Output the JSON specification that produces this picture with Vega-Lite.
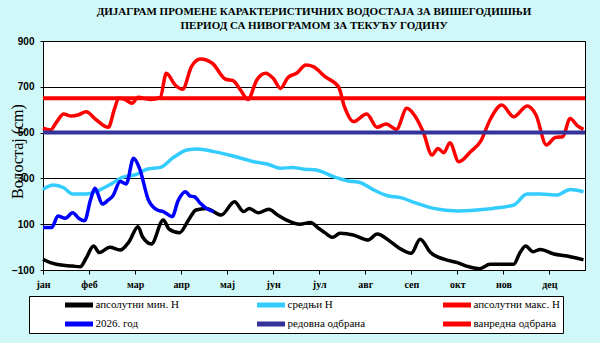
{
  "$schema": "https://vega.github.io/schema/vega-lite/v6.json",
  "width": 542,
  "height": 229,
  "autosize": {"type": "none"},
  "padding": {"left": 43, "top": 41, "right": 15, "bottom": 73},
  "background": "#d0f8f8",
  "title": {
    "text": ["ДИЈАГРАМ ПРОМЕНЕ КАРАКТЕРИСТИЧНИХ ВОДОСТАЈА ЗА ВИШЕГОДИШЊИ", "ПЕРИОД СА НИВОГРАМОМ ЗА ТЕКУЋУ ГОДИНУ"],
    "font": "Liberation Serif",
    "fontSize": 11,
    "fontWeight": "bold",
    "color": "black",
    "anchor": "middle",
    "frame": "group",
    "lineHeight": 14,
    "offset": 5
  },
  "datasets": {
    "lines": [
      {"s": "апсолутни мин. H", "d": 0, "v": -53},
      {"s": "апсолутни мин. H", "d": 5, "v": -68},
      {"s": "апсолутни мин. H", "d": 9, "v": -75},
      {"s": "апсолутни мин. H", "d": 15, "v": -80},
      {"s": "апсолутни мин. H", "d": 20, "v": -83},
      {"s": "апсолутни мин. H", "d": 25, "v": -86},
      {"s": "апсолутни мин. H", "d": 29, "v": -49},
      {"s": "апсолутни мин. H", "d": 34, "v": 5},
      {"s": "апсолутни мин. H", "d": 38, "v": -24},
      {"s": "апсолутни мин. H", "d": 45, "v": -1},
      {"s": "апсолутни мин. H", "d": 52, "v": -13},
      {"s": "апсолутни мин. H", "d": 58, "v": 24},
      {"s": "апсолутни мин. H", "d": 64, "v": 89},
      {"s": "апсолутни мин. H", "d": 67, "v": 45},
      {"s": "апсолутни мин. H", "d": 73, "v": 14},
      {"s": "апсолутни мин. H", "d": 81, "v": 118},
      {"s": "апсолутни мин. H", "d": 85, "v": 78},
      {"s": "апсолутни мин. H", "d": 92, "v": 63},
      {"s": "апсолутни мин. H", "d": 98, "v": 118},
      {"s": "апсолутни мин. H", "d": 103, "v": 162},
      {"s": "апсолутни мин. H", "d": 110, "v": 169},
      {"s": "апсолутни мин. H", "d": 120, "v": 140},
      {"s": "апсолутни мин. H", "d": 129, "v": 198},
      {"s": "апсолутни мин. H", "d": 135, "v": 155},
      {"s": "апсолутни мин. H", "d": 139, "v": 169},
      {"s": "апсолутни мин. H", "d": 145, "v": 150},
      {"s": "апсолутни мин. H", "d": 152, "v": 165},
      {"s": "апсолутни мин. H", "d": 158, "v": 140},
      {"s": "апсолутни мин. H", "d": 164, "v": 118},
      {"s": "апсолутни мин. H", "d": 173, "v": 100},
      {"s": "апсолутни мин. H", "d": 180, "v": 107},
      {"s": "апсолутни мин. H", "d": 186, "v": 80},
      {"s": "апсолутни мин. H", "d": 190, "v": 62},
      {"s": "апсолутни мин. H", "d": 195, "v": 43},
      {"s": "апсолутни мин. H", "d": 200, "v": 60},
      {"s": "апсолутни мин. H", "d": 209, "v": 53},
      {"s": "апсолутни мин. H", "d": 219, "v": 31},
      {"s": "апсолутни мин. H", "d": 225, "v": 57},
      {"s": "апсолутни мин. H", "d": 234, "v": 24},
      {"s": "апсолутни мин. H", "d": 240, "v": -5},
      {"s": "апсолутни мин. H", "d": 248, "v": -27},
      {"s": "апсолутни мин. H", "d": 254, "v": 34},
      {"s": "апсолутни мин. H", "d": 261, "v": -24},
      {"s": "апсолутни мин. H", "d": 270, "v": -53},
      {"s": "апсолутни мин. H", "d": 279, "v": -68},
      {"s": "апсолутни мин. H", "d": 287, "v": -86},
      {"s": "апсолутни мин. H", "d": 294, "v": -94},
      {"s": "апсолутни мин. H", "d": 301, "v": -75},
      {"s": "апсолутни мин. H", "d": 308, "v": -75},
      {"s": "апсолутни мин. H", "d": 317, "v": -75},
      {"s": "апсолутни мин. H", "d": 321, "v": -27},
      {"s": "апсолутни мин. H", "d": 325, "v": 5},
      {"s": "апсолутни мин. H", "d": 330, "v": -20},
      {"s": "апсолутни мин. H", "d": 335, "v": -10},
      {"s": "апсолутни мин. H", "d": 344, "v": -30},
      {"s": "апсолутни мин. H", "d": 353, "v": -39},
      {"s": "апсолутни мин. H", "d": 364, "v": -56},

      {"s": "средњи H", "d": 0, "v": 252},
      {"s": "средњи H", "d": 7, "v": 271},
      {"s": "средњи H", "d": 14, "v": 259},
      {"s": "средњи H", "d": 20, "v": 232},
      {"s": "средњи H", "d": 29, "v": 232},
      {"s": "средњи H", "d": 38, "v": 249},
      {"s": "средњи H", "d": 46, "v": 276},
      {"s": "средњи H", "d": 53, "v": 303},
      {"s": "средњи H", "d": 63, "v": 318},
      {"s": "средњи H", "d": 70, "v": 340},
      {"s": "средњи H", "d": 79, "v": 348},
      {"s": "средњи H", "d": 88, "v": 392},
      {"s": "средњи H", "d": 97, "v": 424},
      {"s": "средњи H", "d": 104, "v": 428},
      {"s": "средњи H", "d": 115, "v": 417},
      {"s": "средњи H", "d": 128, "v": 398},
      {"s": "средњи H", "d": 142, "v": 373},
      {"s": "средњи H", "d": 151, "v": 363},
      {"s": "средњи H", "d": 160, "v": 344},
      {"s": "средњи H", "d": 168, "v": 348},
      {"s": "средњи H", "d": 176, "v": 340},
      {"s": "средњи H", "d": 184, "v": 337},
      {"s": "средњи H", "d": 196, "v": 307},
      {"s": "средњи H", "d": 205, "v": 290},
      {"s": "средњи H", "d": 214, "v": 281},
      {"s": "средњи H", "d": 222, "v": 252},
      {"s": "средњи H", "d": 232, "v": 224},
      {"s": "средњи H", "d": 240, "v": 217},
      {"s": "средњи H", "d": 252, "v": 191},
      {"s": "средњи H", "d": 263, "v": 169},
      {"s": "средњи H", "d": 279, "v": 158},
      {"s": "средњи H", "d": 292, "v": 162},
      {"s": "средњи H", "d": 303, "v": 169},
      {"s": "средњи H", "d": 317, "v": 184},
      {"s": "средњи H", "d": 326, "v": 232},
      {"s": "средњи H", "d": 335, "v": 232},
      {"s": "средњи H", "d": 346, "v": 227},
      {"s": "средњи H", "d": 355, "v": 252},
      {"s": "средњи H", "d": 364, "v": 242},

      {"s": "апсолутни макс. H", "d": 0, "v": 519},
      {"s": "апсолутни макс. H", "d": 5, "v": 511},
      {"s": "апсолутни макс. H", "d": 9, "v": 545},
      {"s": "апсолутни макс. H", "d": 14, "v": 581},
      {"s": "апсолутни макс. H", "d": 19, "v": 572},
      {"s": "апсолутни макс. H", "d": 24, "v": 578},
      {"s": "апсолутни макс. H", "d": 29, "v": 591},
      {"s": "апсолутни макс. H", "d": 36, "v": 555},
      {"s": "апсолутни макс. H", "d": 44, "v": 523},
      {"s": "апсолутни макс. H", "d": 48, "v": 600},
      {"s": "апсолутни макс. H", "d": 51, "v": 650},
      {"s": "апсолутни макс. H", "d": 55, "v": 645},
      {"s": "апсолутни макс. H", "d": 60, "v": 628},
      {"s": "апсолутни макс. H", "d": 64, "v": 654},
      {"s": "апсолутни макс. H", "d": 72, "v": 645},
      {"s": "апсолутни макс. H", "d": 79, "v": 654},
      {"s": "апсолутни макс. H", "d": 83, "v": 759},
      {"s": "апсолутни макс. H", "d": 89, "v": 708},
      {"s": "апсолутни макс. H", "d": 94, "v": 689},
      {"s": "апсолутни макс. H", "d": 100, "v": 788},
      {"s": "апсолутни макс. H", "d": 106, "v": 821},
      {"s": "апсолутни макс. H", "d": 114, "v": 803},
      {"s": "апсолутни макс. H", "d": 123, "v": 733},
      {"s": "апсолутни макс. H", "d": 128, "v": 727},
      {"s": "апсолутни макс. H", "d": 133, "v": 686},
      {"s": "апсолутни макс. H", "d": 138, "v": 645},
      {"s": "апсолутни макс. H", "d": 144, "v": 730},
      {"s": "апсолутни макс. H", "d": 150, "v": 759},
      {"s": "апсолутни макс. H", "d": 155, "v": 737},
      {"s": "апсолутни макс. H", "d": 160, "v": 693},
      {"s": "апсолутни макс. H", "d": 165, "v": 741},
      {"s": "апсолутни макс. H", "d": 171, "v": 760},
      {"s": "апсолутни макс. H", "d": 177, "v": 795},
      {"s": "апсолутни макс. H", "d": 182, "v": 788},
      {"s": "апсолутни макс. H", "d": 190, "v": 744},
      {"s": "апсолутни макс. H", "d": 199, "v": 700},
      {"s": "апсолутни макс. H", "d": 203, "v": 613},
      {"s": "апсолутни макс. H", "d": 209, "v": 548},
      {"s": "апсолутни макс. H", "d": 218, "v": 581},
      {"s": "апсолутни макс. H", "d": 225, "v": 523},
      {"s": "апсолутни макс. H", "d": 231, "v": 538},
      {"s": "апсолутни макс. H", "d": 238, "v": 514},
      {"s": "апсолутни макс. H", "d": 245, "v": 606},
      {"s": "апсолутни макс. H", "d": 250, "v": 577},
      {"s": "апсолутни макс. H", "d": 256, "v": 504},
      {"s": "апсолутни макс. H", "d": 262, "v": 402},
      {"s": "апсолутни макс. H", "d": 266, "v": 431},
      {"s": "апсолутни макс. H", "d": 270, "v": 412},
      {"s": "апсолутни макс. H", "d": 274, "v": 456},
      {"s": "апсолутни макс. H", "d": 280, "v": 373},
      {"s": "апсолутни макс. H", "d": 288, "v": 417},
      {"s": "апсолутни макс. H", "d": 295, "v": 465},
      {"s": "апсолутни макс. H", "d": 301, "v": 555},
      {"s": "апсолутни макс. H", "d": 309, "v": 620},
      {"s": "апсолутни макс. H", "d": 317, "v": 569},
      {"s": "апсолутни макс. H", "d": 326, "v": 616},
      {"s": "апсолутни макс. H", "d": 332, "v": 577},
      {"s": "апсолутни макс. H", "d": 339, "v": 446},
      {"s": "апсолутни макс. H", "d": 345, "v": 479},
      {"s": "апсолутни макс. H", "d": 350, "v": 482},
      {"s": "апсолутни макс. H", "d": 355, "v": 562},
      {"s": "апсолутни макс. H", "d": 360, "v": 529},
      {"s": "апсолутни макс. H", "d": 364, "v": 514},

      {"s": "2026. год", "d": 0, "v": 86},
      {"s": "2026. год", "d": 6, "v": 86},
      {"s": "2026. год", "d": 10, "v": 136},
      {"s": "2026. год", "d": 15, "v": 126},
      {"s": "2026. год", "d": 20, "v": 150},
      {"s": "2026. год", "d": 24, "v": 126},
      {"s": "2026. год", "d": 28, "v": 115},
      {"s": "2026. год", "d": 32, "v": 206},
      {"s": "2026. год", "d": 35, "v": 257},
      {"s": "2026. год", "d": 40, "v": 188},
      {"s": "2026. год", "d": 44, "v": 206},
      {"s": "2026. год", "d": 47, "v": 223},
      {"s": "2026. год", "d": 52, "v": 286},
      {"s": "2026. год", "d": 56, "v": 276},
      {"s": "2026. год", "d": 61, "v": 388},
      {"s": "2026. год", "d": 65, "v": 344},
      {"s": "2026. год", "d": 71, "v": 206},
      {"s": "2026. год", "d": 77, "v": 162},
      {"s": "2026. год", "d": 81, "v": 155},
      {"s": "2026. год", "d": 87, "v": 133},
      {"s": "2026. год", "d": 91, "v": 203},
      {"s": "2026. год", "d": 96, "v": 242},
      {"s": "2026. год", "d": 99, "v": 223},
      {"s": "2026. год", "d": 102, "v": 220},
      {"s": "2026. год", "d": 106, "v": 191},
      {"s": "2026. год", "d": 110, "v": 169},
      {"s": "2026. год", "d": 115, "v": 155}
    ],
    "rules": [
      {"s": "редовна одбрана", "v": 500},
      {"s": "ванредна одбрана", "v": 650}
    ]
  },
  "layer": [
    {
      "data": {"name": "lines"},
      "mark": {"type": "line", "interpolate": "monotone", "strokeWidth": 3.5},
      "encoding": {
        "x": {
          "field": "d",
          "type": "quantitative",
          "scale": {"domain": [0, 365], "nice": false, "zero": false},
          "axis": {
            "values": [0, 31, 62, 93, 124, 155, 186, 217, 248, 279, 310, 341],
            "labelExpr": "['јан','феб','мар','апр','мај','јун','јул','авг','сеп','окт','нов','дец'][round(datum.value/31)]",
            "grid": false,
            "title": null,
            "domainColor": "black",
            "tickColor": "black",
            "tickSize": 4,
            "labelFont": "Liberation Serif",
            "labelFontWeight": "bold",
            "labelFontSize": 10,
            "labelColor": "black",
            "labelPadding": 5,
            "labelFlush": false,
            "labelOverlap": false
          }
        },
        "y": {
          "field": "v",
          "type": "quantitative",
          "scale": {"domain": [-100, 900], "nice": false, "zero": false},
          "axis": {
            "values": [-100, 100, 300, 500, 700, 900],
            "grid": true,
            "gridColor": "black",
            "gridWidth": 1,
            "gridOpacity": 1,
            "domainColor": "black",
            "tickColor": "black",
            "tickSize": 3,
            "labelFont": "Liberation Sans",
            "labelFontWeight": "bold",
            "labelFontSize": 10,
            "labelColor": "black",
            "labelPadding": 6,
            "labelOverlap": false,
            "title": "Водостај (cm)",
            "titleFont": "Liberation Serif",
            "titleFontSize": 16,
            "titleFontWeight": "normal",
            "titleColor": "black",
            "titleX": -21,
            "titleY": 110,
            "titleAngle": -90,
            "titleAlign": "center",
            "titleBaseline": "alphabetic"
          }
        },
        "color": {
          "field": "s",
          "type": "nominal",
          "scale": {
            "domain": ["апсолутни мин. H", "средњи H", "апсолутни макс. H", "2026. год", "редовна одбрана", "ванредна одбрана"],
            "range": ["#000000", "#33ccff", "#ff0000", "#0000ff", "#333399", "#ff0000"]
          },
          "legend": {
            "orient": "none",
            "legendX": -14,
            "legendY": 255,
            "direction": "horizontal",
            "columns": 3,
            "gridAlign": "each",
            "strokeColor": "black",
            "fillColor": "white",
            "padding": 2.5,
            "title": " ",
            "titleOrient": "left",
            "titlePadding": 31,
            "titleFontSize": 11,
            "symbolType": "stroke",
            "symbolSize": 784,
            "symbolStrokeWidth": 5,
            "clipHeight": 13,
            "labelFont": "Liberation Serif",
            "labelFontSize": 11,
            "labelColor": "black",
            "labelOffset": 0,
            "labelLimit": 400,
            "labelExpr": "(datum.label == 'апсолутни макс. H' || datum.label == 'ванредна одбрана') ? datum.label + '            ' : datum.label",
            "rowPadding": 6,
            "columnPadding": 75
          }
        }
      }
    },
    {
      "data": {"name": "rules"},
      "mark": {"type": "rule", "strokeWidth": 4},
      "encoding": {
        "y": {"field": "v", "type": "quantitative"},
        "color": {"field": "s", "type": "nominal"}
      }
    }
  ],
  "config": {
    "view": {"stroke": "black", "strokeWidth": 1, "fill": "white"}
  }
}
